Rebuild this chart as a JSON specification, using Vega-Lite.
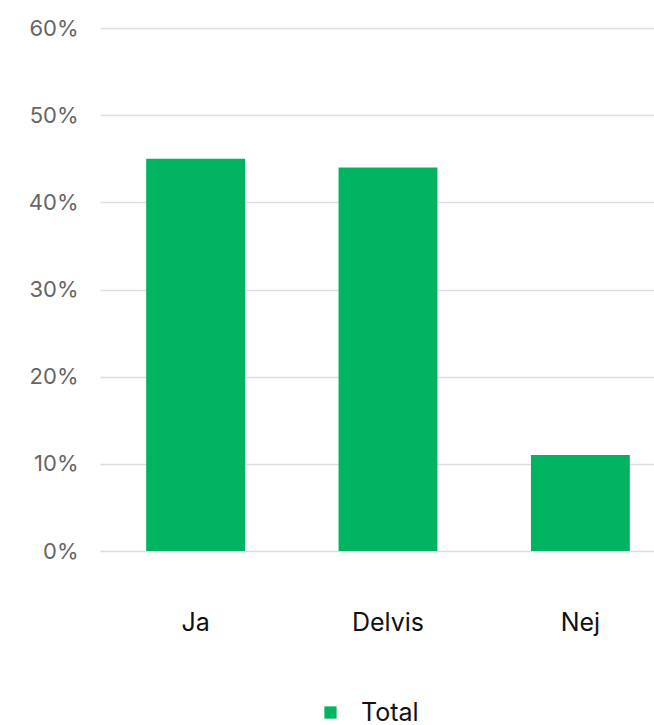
{
  "$schema": "https://vega.github.io/schema/vega-lite/v6.json",
  "width": 554,
  "height": 523,
  "autosize": {"type": "none"},
  "padding": {"left": 100, "top": 28, "right": 0, "bottom": 174},
  "background": "white",
  "config": {
    "view": {"stroke": null},
    "font": "Inter"
  },
  "data": {
    "values": [
      {"answer": "Ja", "value": 0.45, "series": "Total"},
      {"answer": "Delvis", "value": 0.44, "series": "Total"},
      {"answer": "Nej", "value": 0.11, "series": "Total"}
    ]
  },
  "mark": {"type": "bar"},
  "encoding": {
    "x": {
      "field": "answer",
      "type": "nominal",
      "sort": ["Ja", "Delvis", "Nej"],
      "scale": {"range": [0, 576], "paddingInner": 0.486, "paddingOuter": 0.24},
      "axis": {
        "title": null,
        "labelAngle": 0,
        "domain": false,
        "ticks": false,
        "labelPadding": 59,
        "labelFontSize": 25,
        "labelColor": "#111111",
        "labelFont": "Inter"
      }
    },
    "y": {
      "field": "value",
      "type": "quantitative",
      "scale": {"domain": [0, 0.6], "nice": false},
      "axis": {
        "title": null,
        "format": ".0%",
        "values": [0, 0.1, 0.2, 0.3, 0.4, 0.5, 0.6],
        "domain": false,
        "ticks": false,
        "labelPadding": 22,
        "labelFontSize": 22,
        "labelColor": "#666666",
        "gridColor": "#dddddd",
        "gridWidth": 1.5
      }
    },
    "color": {
      "field": "series",
      "type": "nominal",
      "scale": {"range": ["#00b462"]},
      "legend": {
        "title": null,
        "orient": "none",
        "legendX": 218,
        "legendY": 672,
        "symbolType": "square",
        "symbolSize": 150,
        "symbolOpacity": 1,
        "labelFontSize": 25,
        "labelColor": "#111111",
        "labelOffset": 18
      }
    }
  }
}
